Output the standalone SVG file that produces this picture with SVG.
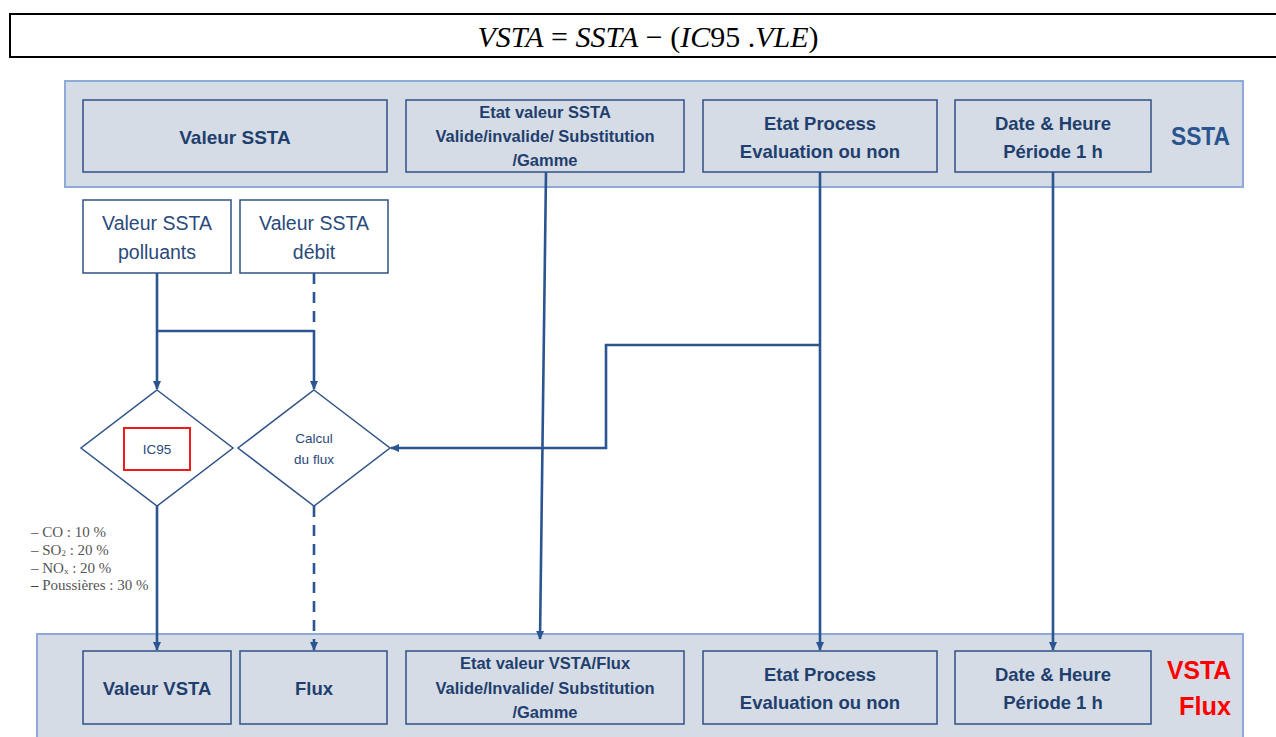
<svg xmlns="http://www.w3.org/2000/svg" width="1276" height="737" viewBox="0 0 1276 737">
<style>
.band{fill:#d6dce5;stroke:#8eaadb;stroke-width:2}
.box{fill:#d6dce5;stroke:#2f5287;stroke-width:1.5}
.wbox{fill:#ffffff;stroke:#2f5287;stroke-width:1.5}
.dia{fill:#ffffff;stroke:#2f5287;stroke-width:1.5}
.tb{font-family:"Liberation Sans",Arial,sans-serif;font-weight:bold;fill:#1f3f6e;text-anchor:middle}
.tr{font-family:"Liberation Sans",Arial,sans-serif;fill:#2a4a7a;text-anchor:middle}
.lbl{font-family:"Liberation Sans",Arial,sans-serif;font-weight:bold}
.ln{fill:none;stroke:#2b5590;stroke-width:2.6}
.dash{stroke-dasharray:11 8}
.list{font-family:"Liberation Serif","Times New Roman",serif;font-size:15px;fill:#555}
.f{font-family:"Liberation Serif","Times New Roman",serif;font-size:30px;fill:#000}
</style>
<defs>
<marker id="ah" markerWidth="10" markerHeight="10" refX="8" refY="5" orient="auto" markerUnits="userSpaceOnUse">
<path d="M0,1 L9,5 L0,9 z" fill="#2b5590"/>
</marker>
</defs>
<rect width="1276" height="737" fill="#ffffff"/>

<g id="formula">
<rect x="10" y="14" width="1270" height="43" fill="none" stroke="#000" stroke-width="2"/>
<text x="648" y="47" class="f" text-anchor="middle"><tspan font-style="italic">VSTA</tspan> = <tspan font-style="italic">SSTA</tspan> − (<tspan font-style="italic">IC</tspan>95 .<tspan font-style="italic">VLE</tspan>)</text>
</g>

<g id="ssta-band">
<rect class="band" x="65" y="81" width="1178" height="106"/>
</g>
<g id="valeur-ssta">
<rect class="box" x="83" y="100" width="304" height="72"/>
<text x="235" y="144" class="tb" font-size="19">Valeur SSTA</text>
</g>
<g id="etat-valeur-ssta">
<rect class="box" x="406" y="100" width="278" height="72"/>
<text x="545" y="118" class="tb" font-size="16.5">Etat valeur SSTA</text>
<text x="545" y="142" class="tb" font-size="16.5">Valide/invalide/ Substitution</text>
<text x="545" y="166" class="tb" font-size="16.5">/Gamme</text>
</g>
<g id="etat-process-ssta">
<rect class="box" x="703" y="100" width="234" height="72"/>
<text x="820" y="130" class="tb" font-size="18.5">Etat Process</text>
<text x="820" y="158" class="tb" font-size="18.5">Evaluation ou non</text>
</g>
<g id="date-heure-ssta">
<rect class="box" x="955" y="100" width="196" height="72"/>
<text x="1053" y="130" class="tb" font-size="18.5">Date &amp; Heure</text>
<text x="1053" y="158" class="tb" font-size="18.5">Période 1 h</text>
</g>
<g id="ssta-label">
<text x="1171" y="145" class="lbl" font-size="26" textLength="59" lengthAdjust="spacingAndGlyphs" style="fill:#2a5590">SSTA</text>
</g>

<g id="valeur-ssta-polluants">
<rect class="wbox" x="83" y="200" width="148" height="73"/>
<text x="157" y="230" class="tr" font-size="19.5">Valeur SSTA</text>
<text x="157" y="259" class="tr" font-size="19.5">polluants</text>
</g>
<g id="valeur-ssta-debit">
<rect class="wbox" x="240" y="200" width="148" height="73"/>
<text x="314" y="230" class="tr" font-size="19.5">Valeur SSTA</text>
<text x="314" y="259" class="tr" font-size="19.5">débit</text>
</g>

<g id="ic95">
<path class="dia" d="M157,390 L233,448 L157,506 L81,448 Z"/>
<rect x="124" y="428" width="66" height="42" fill="none" stroke="#ee1c1c" stroke-width="2"/>
<text x="157" y="454" class="tr" font-size="13.5">IC95</text>
</g>
<g id="calcul-flux">
<path class="dia" d="M314,390 L390,448 L314,506 L238,448 Z"/>
<text x="314" y="443" class="tr" font-size="13.5">Calcul</text>
<text x="314" y="464" class="tr" font-size="13.5">du flux</text>
</g>

<g id="legend">
<text x="31" y="537" class="list">–  CO : 10 %</text>
<text x="31" y="555" class="list">–  SO<tspan font-size="9" dy="1">2</tspan><tspan dy="-1"> : 20 %</tspan></text>
<text x="31" y="573" class="list">–  NO<tspan font-size="9" dy="1">x</tspan><tspan dy="-1"> : 20 %</tspan></text>
<text x="31" y="590" class="list"><tspan style="fill:#111">–</tspan>  Poussières : 30 %</text>
</g>

<g id="vsta-band">
<rect class="band" x="37" y="634" width="1206" height="110"/>
</g>
<g id="valeur-vsta">
<rect class="box" x="83" y="651" width="148" height="73"/>
<text x="157" y="695" class="tb" font-size="18.5">Valeur VSTA</text>
</g>
<g id="flux">
<rect class="box" x="240" y="651" width="147" height="73"/>
<text x="314" y="695" class="tb" font-size="18.5">Flux</text>
</g>
<g id="etat-valeur-vsta">
<rect class="box" x="406" y="651" width="278" height="73"/>
<text x="545" y="669" class="tb" font-size="16.5">Etat valeur VSTA/Flux</text>
<text x="545" y="694" class="tb" font-size="16.5">Valide/Invalide/ Substitution</text>
<text x="545" y="718" class="tb" font-size="16.5">/Gamme</text>
</g>
<g id="etat-process-vsta">
<rect class="box" x="703" y="651" width="234" height="73"/>
<text x="820" y="681" class="tb" font-size="18.5">Etat Process</text>
<text x="820" y="709" class="tb" font-size="18.5">Evaluation ou non</text>
</g>
<g id="date-heure-vsta">
<rect class="box" x="955" y="651" width="196" height="73"/>
<text x="1053" y="681" class="tb" font-size="18.5">Date &amp; Heure</text>
<text x="1053" y="709" class="tb" font-size="18.5">Période 1 h</text>
</g>
<g id="vsta-flux-label">
<text x="1167" y="679" class="lbl" font-size="25" textLength="64" lengthAdjust="spacingAndGlyphs" style="fill:#ff0000">VSTA</text>
<text x="1179" y="715" class="lbl" font-size="25" textLength="52" lengthAdjust="spacingAndGlyphs" style="fill:#ff0000">Flux</text>
</g>

<g id="connectors">
<path class="ln" d="M157,273 L157,389" marker-end="url(#ah)"/>
<path class="ln dash" d="M314,273 L314,331"/>
<path class="ln" d="M314,331 L314,389" marker-end="url(#ah)"/>
<path class="ln" d="M157,331 L314,331"/>
<path class="ln" d="M157,506 L157,650" marker-end="url(#ah)"/>
<path class="ln dash" d="M314,506 L314,650" marker-end="url(#ah)"/>
<path class="ln" d="M546,172 L540,639" marker-end="url(#ah)"/>
<path class="ln" d="M820,172 L820,650" marker-end="url(#ah)"/>
<path class="ln" d="M820,345 L606,345 L606,448 L391,448" marker-end="url(#ah)"/>
<path class="ln" d="M1053,172 L1053,650" marker-end="url(#ah)"/>
</g>
</svg>
